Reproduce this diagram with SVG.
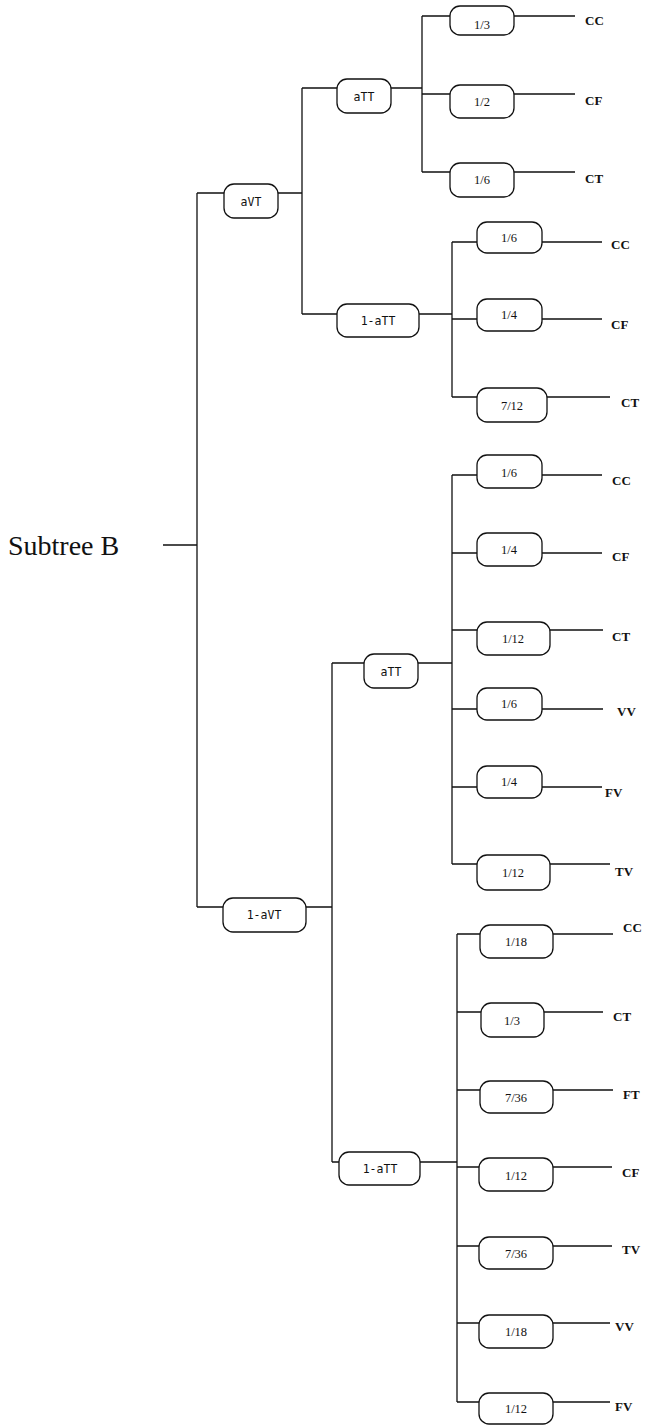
<svg xmlns="http://www.w3.org/2000/svg" width="645" height="1425" viewBox="0 0 645 1425">
<style>
.c{fill:none;stroke:#111;stroke-width:1.3}
.n rect{fill:#fff;stroke:#111;stroke-width:1.3}
.n text{font-family:"Liberation Serif",serif;font-size:12.5px;text-anchor:middle;fill:#111}
.n text.m{font-family:"DejaVu Sans Mono","Liberation Mono",monospace;font-size:11.5px}
.leaf{font-family:"Liberation Serif",serif;font-size:13px;font-weight:bold;fill:#111}
.title{font-family:"Liberation Serif",serif;font-size:28px;fill:#111}
</style>
<rect width="645" height="1425" fill="#fff"/>
<text class="title" x="8" y="555">Subtree B</text>
<g id="connectors">
<path class="c" d="M163 545H197M197 193V907"/>
<path class="c" d="M197 193H224M278 193H302M302 88V314M302 88H337M391 88H422M422 16V172"/>
<path class="c" d="M422 16H450M514 16H575M422 94H450M514 94H575M422 172H450M514 172H575"/>
<path class="c" d="M302 314H337M419 314H452M452 242V397"/>
<path class="c" d="M452 242H477M542 242H602M452 319H477M542 319H602M452 397H477M547 397H610"/>
<path class="c" d="M197 907H223M306 907H332M332 663V1162"/>
<path class="c" d="M332 663H364M418 663H452M452 475V864"/>
<path class="c" d="M452 475H477M542 475H602M452 553H477M542 553H602M452 630H477M550 630H603M452 709H477M542 709H603M452 787H477M542 787H602M452 864H477M550 864H610"/>
<path class="c" d="M332 1162H339M420 1162H457M457 934V1402"/>
<path class="c" d="M457 934H480M553 934H613M457 1012H481M544 1012H603M457 1090H480M553 1090H613M457 1167H479M553 1167H612M457 1246H479M553 1246H612M457 1323H479M553 1323H610M457 1402H479M553 1402H610"/>
</g>
<g id="aVT" class="n"><rect x="224" y="184" width="54" height="34" rx="10"/><text class="m" x="251" y="206">aVT</text></g>
<g id="aTT1" class="n"><rect x="337" y="79" width="54" height="34" rx="10"/><text class="m" x="364" y="101">aTT</text></g>
<g id="naTT1" class="n"><rect x="337" y="304" width="82" height="33" rx="10"/><text class="m" x="378" y="325">1-aTT</text></g>
<g id="naVT" class="n"><rect x="223" y="898" width="83" height="34" rx="10"/><text class="m" x="264" y="919">1-aVT</text></g>
<g id="aTT2" class="n"><rect x="364" y="654" width="54" height="34" rx="10"/><text class="m" x="391" y="676">aTT</text></g>
<g id="naTT2" class="n"><rect x="339" y="1152" width="81" height="33" rx="10"/><text class="m" x="380" y="1173">1-aTT</text></g>

<g id="p1" class="n"><rect x="450" y="6" width="64" height="29" rx="10"/><text x="482" y="29">1/3</text></g>
<g id="p2" class="n"><rect x="450" y="85" width="64" height="33" rx="10"/><text x="482" y="106">1/2</text></g>
<g id="p3" class="n"><rect x="450" y="163" width="64" height="34" rx="10"/><text x="482" y="184">1/6</text></g>
<g id="p4" class="n"><rect x="477" y="222" width="65" height="31" rx="10"/><text x="509" y="242">1/6</text></g>
<g id="p5" class="n"><rect x="477" y="299" width="65" height="32" rx="10"/><text x="509" y="319">1/4</text></g>
<g id="p6" class="n"><rect x="477" y="388" width="70" height="34" rx="10"/><text x="512" y="410">7/12</text></g>
<g id="p7" class="n"><rect x="477" y="455" width="65" height="33" rx="10"/><text x="509" y="477">1/6</text></g>
<g id="p8" class="n"><rect x="477" y="533" width="65" height="33" rx="10"/><text x="509" y="554">1/4</text></g>
<g id="p9" class="n"><rect x="477" y="622" width="73" height="33" rx="10"/><text x="513" y="643">1/12</text></g>
<g id="p10" class="n"><rect x="477" y="688" width="65" height="32" rx="10"/><text x="509" y="708">1/6</text></g>
<g id="p11" class="n"><rect x="477" y="766" width="65" height="32" rx="10"/><text x="509" y="786">1/4</text></g>
<g id="p12" class="n"><rect x="477" y="855" width="73" height="35" rx="10"/><text x="513" y="877">1/12</text></g>
<g id="p13" class="n"><rect x="480" y="925" width="73" height="33" rx="10"/><text x="516" y="946">1/18</text></g>
<g id="p14" class="n"><rect x="481" y="1003" width="63" height="34" rx="10"/><text x="512" y="1025">1/3</text></g>
<g id="p15" class="n"><rect x="480" y="1081" width="73" height="32" rx="10"/><text x="516" y="1102">7/36</text></g>
<g id="p16" class="n"><rect x="479" y="1158" width="74" height="33" rx="10"/><text x="516" y="1180">1/12</text></g>
<g id="p17" class="n"><rect x="479" y="1237" width="74" height="32" rx="10"/><text x="516" y="1258">7/36</text></g>
<g id="p18" class="n"><rect x="479" y="1315" width="74" height="33" rx="10"/><text x="516" y="1336">1/18</text></g>
<g id="p19" class="n"><rect x="479" y="1393" width="74" height="31" rx="10"/><text x="516" y="1413">1/12</text></g>

<g id="leaves">
<text class="leaf" x="585" y="25">CC</text>
<text class="leaf" x="585" y="105">CF</text>
<text class="leaf" x="585" y="183">CT</text>
<text class="leaf" x="611" y="249">CC</text>
<text class="leaf" x="611" y="329">CF</text>
<text class="leaf" x="621" y="407">CT</text>
<text class="leaf" x="612" y="485">CC</text>
<text class="leaf" x="612" y="561">CF</text>
<text class="leaf" x="612" y="641">CT</text>
<text class="leaf" x="617" y="716">VV</text>
<text class="leaf" x="605" y="797">FV</text>
<text class="leaf" x="615" y="876">TV</text>
<text class="leaf" x="623" y="932">CC</text>
<text class="leaf" x="613" y="1021">CT</text>
<text class="leaf" x="623" y="1099">FT</text>
<text class="leaf" x="622" y="1177">CF</text>
<text class="leaf" x="622" y="1254">TV</text>
<text class="leaf" x="615" y="1331">VV</text>
<text class="leaf" x="615" y="1411">FV</text>
</g>
</svg>
